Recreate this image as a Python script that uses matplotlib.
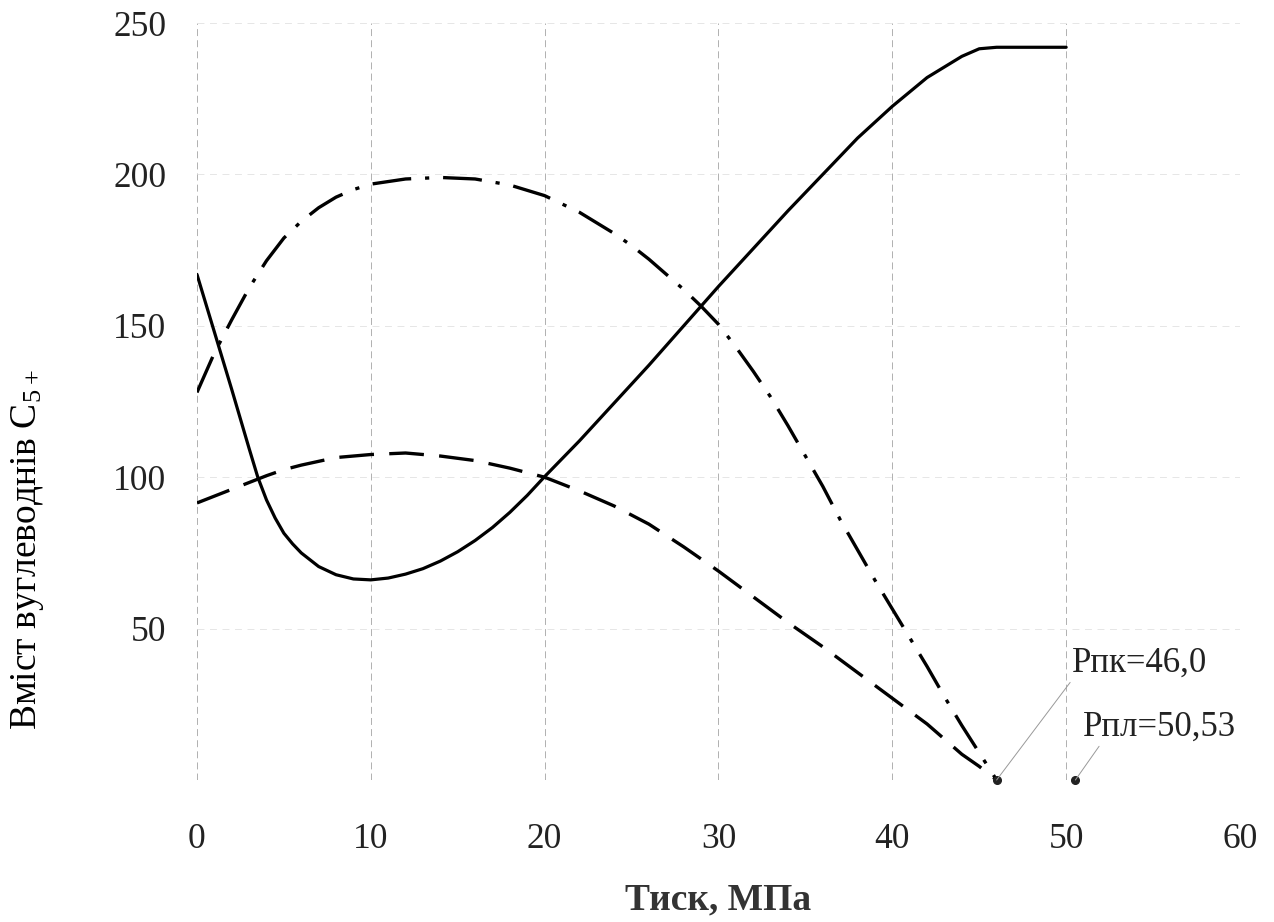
import matplotlib
matplotlib.use("Agg")
import matplotlib.pyplot as plt

# ---- data ----
solid_x = [0, 1, 2, 3, 3.5, 4, 4.5, 5, 5.5, 6, 7, 8, 9, 10, 11, 12, 13, 14, 15, 16, 17,
           18, 19, 20, 22, 24, 26, 28, 30, 32, 34, 36, 38, 40, 42, 44, 45, 46, 50]
solid_y = [167, 148, 129, 109.5, 100, 92.5, 86.5, 81.5, 78, 75, 70.5, 67.8, 66.4, 66.1,
           66.7, 68, 69.8, 72.3, 75.4, 79.1, 83.4, 88.4, 94, 100.2, 112, 124.5, 137,
           150, 163, 175.5, 188, 200, 212, 222.5, 232, 239, 241.5, 242, 242]

dashdot_x = [0, 1, 2, 3, 4, 5, 6, 7, 8, 9, 10, 12, 14, 16, 18, 20, 22, 24, 25, 26, 28,
             29, 30, 31, 32, 33, 34, 35, 36, 37, 38, 39, 40, 41, 42, 43, 44, 45, 46]
dashdot_y = [128, 141, 152, 162.5, 171.5, 179, 184.5, 189, 192.5, 195, 196.8, 198.5, 199,
             198.5, 196.5, 193, 187.5, 180.5, 176.5, 172, 162, 156.5, 150.5, 143, 135,
             126.5, 117, 107, 97, 86, 76, 66, 56.5, 47, 37.5, 27.5, 18, 9, 0]

dashed_x = [0, 2, 4, 5, 6, 8, 10, 12, 14, 16, 18, 20, 22, 24, 26, 28, 29, 30, 32, 34, 36,
            38, 40, 42, 44, 45, 46]
dashed_y = [91.5, 96, 100.5, 102.5, 104, 106.5, 107.5, 108, 107, 105.5, 103, 100, 95.5,
            90.5, 84.5, 77, 73, 69, 60.5, 52, 44, 35.5, 27, 18.5, 8.5, 4.5, 0]

point_x = [46.0, 50.53]
point_y = [0, 0]
point_labels = ["Рпк=46,0", "Рпл=50,53"]
label_pos = [(50.35, 38.6), (50.95, 17.5)]

x_ticks = [0, 10, 20, 30, 40, 50, 60]
y_ticks = [0, 50, 100, 150, 200, 250]
y_tick_labels = ["", "50", "100", "150", "200", "250"]

plt.rcParams['font.family'] = ['Liberation Serif', 'DejaVu Serif']
plt.rcParams['mathtext.fontset'] = 'custom'
plt.rcParams['mathtext.rm'] = 'Liberation Serif'
plt.rcParams['mathtext.default'] = 'regular'
plt.rcParams['lines.scale_dashes'] = False

fig = plt.figure(figsize=(12.74, 9.22), dpi=100)
ax = fig.add_axes([0.1546, 0.154, 0.8187, 0.821])

ax.plot(solid_x, solid_y, color='black', lw=2.3, solid_capstyle='round')
ax.plot(dashed_x, dashed_y, color='black', lw=2.4, dashes=(25, 11))
ax.plot(dashdot_x, dashdot_y, color='black', lw=2.4, dashes=(28, 10, 3, 10))
ax.plot(point_x, point_y, 'o', color='#222222', ms=5.5, clip_on=False)

relposes = [(0.0, 0.0), (0.12, 0.0)]
for px, py, lab, (tx, ty), rp in zip(point_x, point_y, point_labels, label_pos, relposes):
    ax.annotate(lab, xy=(px, py), xytext=(tx, ty),
                fontsize=25, color='#222222', va='center', ha='left',
                annotation_clip=False,
                arrowprops=dict(arrowstyle='-', color='#999999', lw=0.7,
                                shrinkA=0, shrinkB=0, relpos=rp))

ax.set_xlim(0, 60)
ax.set_ylim(0, 250)
ax.set_xticks(x_ticks)
ax.set_yticks(y_ticks)
ax.set_yticklabels(y_tick_labels)
ax.tick_params(axis='both', length=0, labelsize=25.5, colors='#222222')
ax.tick_params(axis='x', pad=31)
ax.tick_params(axis='y', pad=22)

for s in ax.spines.values():
    s.set_visible(False)
ax.grid(True, axis='x', color='#b0b0b0', lw=0.7, linestyle=(0, (5, 3)))
ax.grid(True, axis='y', color='#e6e6e6', lw=0.7, linestyle=(0, (5, 4)))
ax.set_axisbelow(True)

fig.text(718 / 1274, 1 - 900 / 922, "Тиск, МПа", fontsize=27, fontweight='bold',
         color='#333333', ha='center', va='center')
fig.text(28 / 1274, 1 - 550 / 922, r"Вміст вуглеводнів C$_{5+}$", fontsize=27,
         color='black', ha='center', va='center', rotation=90)

fig.savefig("out.png", dpi=100, facecolor='white')
